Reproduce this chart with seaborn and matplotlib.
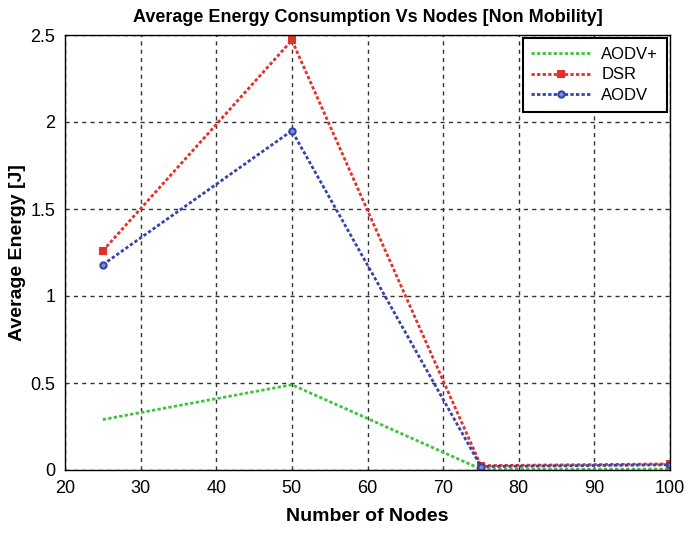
import pandas as pd
import numpy as np
import seaborn as sns
import matplotlib.pyplot as plt

# --- dane ---
nodes = [25, 50, 75, 100]
aodv_plus = [0.29, 0.49, 0.005, 0.005]
dsr = [1.26, 2.47, 0.025, 0.035]
aodv = [1.18, 1.95, 0.02, 0.03]
series_names = ['AODV+', 'DSR', 'AODV']

df = pd.DataFrame({
    'nodes': nodes * 3,
    'energy': aodv_plus + dsr + aodv,
    'protocol': np.repeat(series_names, len(nodes)),
})

sns.set_style('white', {'text.color': 'black', 'axes.labelcolor': 'black',
                        'xtick.color': 'black', 'ytick.color': 'black'})
plt.rcParams['font.family'] = ['Liberation Sans', 'DejaVu Sans']

fig = plt.figure(figsize=(6.88, 5.38), dpi=100)
ax = fig.add_axes([65 / 688, 68 / 538, 605 / 688, 435 / 538])

colors = {'AODV+': '#3fc43f', 'DSR': '#e3302a', 'AODV': '#3345a8'}
markers = {'AODV+': '', 'DSR': 's', 'AODV': 'o'}

for name in series_names:
    sub = df[df['protocol'] == name]
    sns.lineplot(data=sub, x='nodes', y='energy', ax=ax, color=colors[name],
                 label=name, linestyle=(0, (1.2, 0.8)), linewidth=2,
                 marker=markers[name] or None, markersize=4.5,
                 markeredgecolor=colors[name], markeredgewidth=1.5,
                 markerfacecolor='#8090d0' if name == 'AODV' else colors[name])

ax.set_xlim(20, 100)
ax.set_ylim(0, 2.5)
ax.set_xticks(np.arange(20, 101, 10))
ax.set_yticks([0, 0.5, 1, 1.5, 2, 2.5])
ax.set_yticklabels(['0', '0.5', '1', '1.5', '2', '2.5'])
ax.tick_params(labelsize=13, direction='in', length=4, pad=7, colors='black')
ax.grid(True, color='#333333', linestyle=(0, (3, 3)), linewidth=1)
for s in ax.spines.values():
    s.set_color('black')
    s.set_linewidth(1)

ax.set_xlabel('Number of Nodes', fontsize=14, fontweight='bold', labelpad=8,
              color='black')
ax.set_ylabel('Average Energy [J]', fontsize=14, fontweight='bold', labelpad=3,
              color='black')
ax.set_title('Average Energy Consumption Vs Nodes [Non Mobility]',
             fontsize=13, fontweight='bold', pad=9, color='black')

leg = ax.legend(loc='upper right', fontsize=12, frameon=True, fancybox=False,
                edgecolor='black', framealpha=1, borderaxespad=0.2,
                handlelength=3.6, handletextpad=0.6, labelspacing=0.35,
                borderpad=0.5)
leg.get_frame().set_linewidth(1.5)
for t in leg.get_texts():
    t.set_color('black')

fig.savefig('out.png', dpi=100)
